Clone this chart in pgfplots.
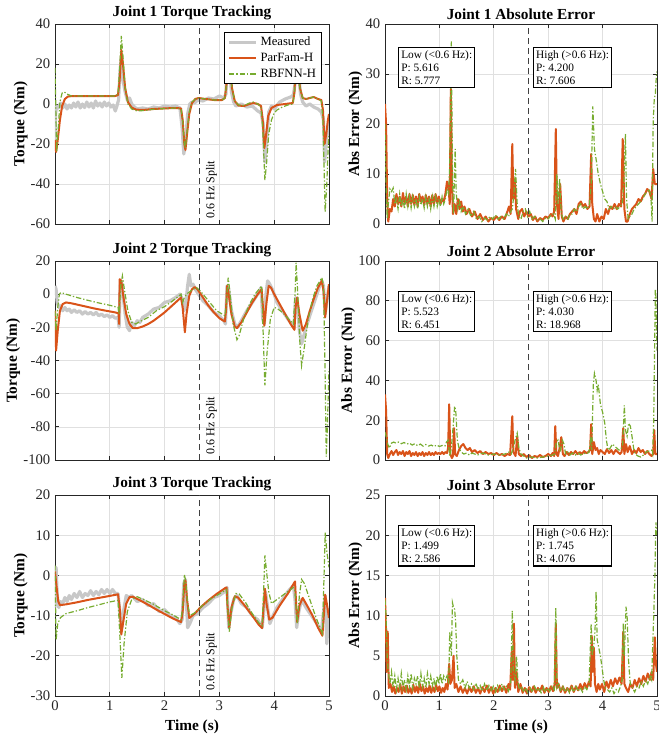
\documentclass[border=0pt]{standalone}
\usepackage{fontspec}
\setmainfont{Liberation Serif}
\usepackage{pgfplots}
\usepackage{pgfplotstable}
\pgfplotsset{compat=1.18}
\definecolor{cmeas}{RGB}{200,200,200}
\definecolor{corange}{RGB}{217,83,25}
\definecolor{cgreen}{RGB}{119,172,48}
\pgfplotsset{
  every axis title shift=0pt,
  myax/.style={scale only axis, xmin=0, xmax=5, xtick={0,1,2,3,4,5},
    grid=major, grid style={black!12, line width=0.5pt},
    axis line style={black!85, line width=0.6pt},
    tick align=inside, major tick length=3pt, tick style={black!85, line width=0.6pt},
    ticklabel style={font=\fontsize{11}{13}\selectfont, text=black!85},
    title style={font=\bfseries\fontsize{11.5}{13}\selectfont, at={(0.5,1)}, anchor=south, inner sep=3pt},
    label style={font=\bfseries\fontsize{11.5}{13}\selectfont},
    ylabel style={yshift=-4.5pt},
    /pgf/number format/assume math mode=true},
  meas/.style={cmeas, line width=2.4pt, line join=round},
  par/.style={corange, line width=1.5pt, line join=round},
  rbf/.style={cgreen, line width=0.9pt, dash pattern=on 4pt off 1.5pt on 1pt off 1.5pt},
  splitl/.style={black!75, line width=0.7pt, dash pattern=on 4.5pt off 3pt, forget plot},
}
\tikzset{
  infobox/.style={draw=black, line width=0.8pt, fill=white, align=left, inner xsep=2pt, inner ysep=2.5pt,
    anchor=north west, font=\fontsize{8.5}{9.6}\selectfont},
  splittext/.style={rotate=90, anchor=north west, inner xsep=4pt, inner ysep=4.5pt, font=\fontsize{9}{10}\selectfont}
}
% ---------------- Joint 1 tracking
\pgfplotstableread{
t y
0.00 -18
0.01 -5
0.03 -1
0.06 -2
0.10 0.5
0.14 -2
0.18 0
0.22 -2.5
0.26 -0.5
0.30 -2
0.34 0.5
0.38 -1.5
0.42 1
0.46 -2
0.50 0
0.54 -1.8
0.58 1
0.62 -1.5
0.66 0.5
0.70 -2
0.74 1.5
0.78 -1
0.82 0.5
0.86 -1.5
0.90 1
0.94 -1
0.98 0.5
1.02 -1.5
1.06 -0.5
1.10 -3.5
1.13 -1
1.16 2
1.19 18
1.21 23
1.24 12
1.28 6
1.32 2
1.36 3
1.40 0
1.45 -1.5
1.50 -2.5
1.60 -2
1.70 -2.5
1.80 -1.5
1.90 -2
2.00 -1
2.10 -1.5
2.20 -1
2.28 -2
2.32 -12
2.35 -25
2.38 -20
2.42 -5
2.46 0
2.50 1
2.55 0.5
2.60 2
2.70 1.5
2.80 3
2.90 2.5
3.00 4
3.08 3
3.12 5
3.15 25
3.18 20
3.22 6
3.26 1
3.30 -1
3.40 0
3.50 -1.5
3.60 -1
3.70 -3.5
3.76 -4.5
3.80 -10
3.83 -29
3.86 -20
3.90 -4
3.95 -1
4.00 -2.5
4.10 1
4.20 2.5
4.30 3.5
4.35 4.5
4.38 10
4.41 26
4.44 18
4.48 5
4.52 1
4.58 -1
4.65 0
4.72 -1.5
4.80 -2.5
4.86 -4
4.90 -8
4.92 -29
4.95 -20
4.98 -12
5.00 -9
}\jAm
\pgfplotstableread{
t y
0.00 -18
0.02 -24
0.05 -18
0.09 -8
0.13 -1
0.18 2.5
0.24 3.8
0.35 4
0.60 4
0.90 4
1.10 4
1.15 4.5
1.18 12
1.21 27
1.24 20
1.28 8
1.33 1
1.40 -1.8
1.48 -2.8
1.60 -3
1.80 -2.5
2.00 -2.2
2.20 -2
2.30 -2.2
2.33 -8
2.36 -20
2.38 -23
2.41 -15
2.45 -5
2.50 0.5
2.56 2.5
2.62 3
2.75 2.5
2.90 2
3.05 2
3.10 3
3.13 10
3.16 24
3.19 20
3.23 8
3.28 1.5
3.35 -0.8
3.45 -1
3.55 0
3.62 0.5
3.70 0
3.76 -1
3.79 -8
3.82 -22
3.85 -16
3.89 -6
3.95 -2
4.05 -0.5
4.20 0
4.34 0.5
4.37 6
4.40 25
4.43 20
4.47 8
4.52 3
4.58 2.5
4.65 3
4.72 3.5
4.80 2.5
4.86 2
4.89 -3
4.92 -20
4.95 -15
4.98 -8
5.00 -5
}\jAp
\pgfplotstableread{
t y
0.00 18
0.01 5
0.03 -24
0.06 -12
0.09 1
0.13 5.5
0.17 6
0.22 5
0.30 4
0.60 4
0.90 4
1.10 4
1.15 5
1.18 18
1.21 34
1.24 24
1.28 8
1.33 0
1.40 -2.5
1.50 -3.5
1.65 -3.2
1.80 -2.6
2.00 -2.3
2.20 -2
2.30 -2.5
2.33 -8
2.36 -20
2.38 -22
2.41 -14
2.45 -4
2.50 1
2.56 2.5
2.62 3
2.75 2.5
2.90 2
3.05 2
3.10 3
3.13 10
3.16 22
3.19 19
3.23 8
3.28 1.5
3.35 -0.5
3.45 -0.8
3.55 0.5
3.62 1
3.70 0
3.76 -1.5
3.79 -12
3.83 -38
3.86 -30
3.90 -15
3.95 -8
4.00 -4.5
4.05 -3
4.15 -1.5
4.25 -0.5
4.34 0
4.37 6
4.40 24
4.43 20
4.47 8
4.52 3
4.58 2.5
4.65 3
4.72 3.5
4.80 2.5
4.86 1.5
4.89 -8
4.93 -54
4.96 -40
4.98 -25
5.00 -15
}\jAr
% ---------------- Joint 2 tracking
\pgfplotstableread{
t y
0.00 5
0.02 3
0.04 -5
0.07 -8
0.10 -7
0.14 -10
0.18 -8
0.22 -10
0.26 -9
0.30 -11
0.35 -9.5
0.40 -11
0.45 -10
0.50 -12
0.55 -10.5
0.60 -12
0.65 -11
0.70 -12.5
0.75 -11
0.80 -13
0.85 -12
0.90 -13.5
0.95 -12.5
1.00 -14
1.05 -13
1.10 -14.5
1.15 -14
1.17 -20
1.19 5
1.21 8
1.24 0
1.28 -12
1.32 -20
1.36 -22
1.40 -17
1.45 -19
1.50 -16
1.55 -17
1.60 -14
1.70 -12
1.80 -9
1.90 -8
2.00 -5
2.10 -4
2.20 -2
2.28 0
2.32 -3
2.35 -10
2.38 -8
2.42 5
2.45 12
2.48 5
2.52 6
2.56 3
2.62 0
2.70 -4
2.80 -7
2.90 -11
3.00 -13
3.08 -16
3.11 -18
3.14 5
3.17 3
3.22 -10
3.28 -18
3.33 -20
3.40 -16
3.50 -10
3.60 -5
3.70 0
3.76 4
3.79 -15
3.82 -18
3.85 0
3.88 8
3.92 6
3.98 2
4.05 -5
4.15 -10
4.25 -15
4.32 -18
4.36 -20
4.39 -2
4.42 -5
4.46 -22
4.50 -30
4.54 -25
4.60 -18
4.68 -10
4.75 -3
4.82 4
4.87 8
4.90 5
4.93 -12
4.96 -5
5.00 5
}\jBm
\pgfplotstableread{
t y
0.00 -10
0.02 -34
0.05 -22
0.09 -10
0.14 -6
0.20 -5
0.30 -5.5
0.50 -7
0.70 -8.5
0.90 -9.8
1.10 -11
1.16 -11.5
1.17 -18
1.18 9
1.21 8
1.25 -2
1.30 -12
1.36 -18
1.42 -20.5
1.50 -20.5
1.60 -19.5
1.70 -18
1.80 -16
1.90 -13.5
2.00 -11
2.10 -8
2.20 -5
2.30 -2
2.33 -8
2.37 -23
2.40 -12
2.45 -1
2.50 3
2.55 4.3
2.60 3
2.70 -2
2.80 -7
2.90 -11
3.00 -14.5
3.10 -16.5
3.12 -10
3.14 5
3.17 0
3.22 -12
3.28 -19.5
3.32 -20.5
3.40 -17
3.50 -11
3.60 -5
3.70 0
3.77 3
3.80 -10
3.82 -19
3.86 -5
3.90 5
3.94 4
4.00 0
4.10 -6
4.20 -12
4.30 -18
4.37 -21.5
4.39 -8
4.42 -2
4.46 -12
4.52 -22
4.58 -18
4.65 -10
4.72 -3
4.80 4
4.87 8
4.90 2
4.93 -14
4.96 -5
5.00 6
}\jBp
\pgfplotstableread{
t y
0.00 -10
0.02 -22
0.05 -8
0.08 0
0.11 1
0.20 0
0.40 -2
0.60 -3.7
0.80 -5.3
1.00 -6.7
1.15 -8
1.17 -12
1.20 5
1.23 11
1.27 2
1.33 -10
1.40 -17
1.47 -18
1.55 -16.5
1.70 -14
1.85 -10
2.00 -7.5
2.15 -4
2.30 0
2.33 -5
2.36 -2
2.40 0
2.50 2.5
2.58 4
2.65 2
2.75 -2
2.85 -6
2.95 -10
3.10 -13
3.13 -5
3.16 10
3.19 2
3.25 -18
3.32 -27.5
3.36 -25
3.45 -14
3.55 -6
3.65 0
3.77 5
3.80 -25
3.83 -55
3.87 -35
3.93 -15
4.00 -8
4.05 -8.5
4.15 -11
4.25 -14.5
4.35 -18
4.38 0
4.40 19
4.43 0
4.47 -30
4.50 -43
4.55 -32
4.62 -15
4.70 -3
4.78 5
4.87 10
4.90 5
4.93 -50
4.95 -98
4.97 -80
5.00 -45
}\jBr
% ---------------- Joint 3 tracking
\pgfplotstableread{
t y
0.00 -8
0.02 2
0.04 -5
0.07 -8
0.10 -6.5
0.14 -7
0.18 -5.5
0.22 -6.5
0.26 -5
0.30 -6
0.35 -4.5
0.40 -5.5
0.45 -4
0.50 -5.5
0.55 -4.5
0.60 -5
0.65 -3.8
0.70 -5
0.75 -4
0.80 -4.8
0.85 -3.5
0.90 -4.5
0.95 -3.5
1.00 -4.5
1.05 -3.5
1.10 -4.5
1.15 -4.5
1.19 -10
1.22 -13
1.25 -9
1.30 -5
1.35 -5.5
1.40 -5
1.50 -6.5
1.60 -6
1.70 -7.5
1.80 -7
1.90 -9
2.00 -8.5
2.10 -10
2.20 -10.5
2.28 -12
2.32 -11
2.35 -2
2.38 -1
2.42 -13
2.46 -12
2.52 -10
2.60 -9.5
2.70 -8
2.80 -7
2.90 -5.5
3.00 -5
3.10 -4
3.14 -3
3.17 -13
3.20 -10
3.26 -6
3.32 -5
3.40 -7
3.50 -8
3.60 -10
3.70 -11
3.78 -13
3.81 -9
3.84 -4
3.88 -8
3.92 -12
3.98 -10
4.05 -8
4.15 -6
4.25 -4
4.35 -2.5
4.38 -6
4.41 -13
4.45 -9
4.50 -6
4.58 -8
4.68 -10
4.78 -12
4.86 -14
4.90 -9
4.93 -5
4.96 -17
5.00 -8
}\jCm
\pgfplotstableread{
t y
0.00 1
0.03 -3
0.06 -6.5
0.09 -7.4
0.20 -7.2
0.40 -6.7
0.60 -6.1
0.80 -5.6
1.00 -5.1
1.15 -4.7
1.18 -8
1.21 -14.7
1.24 -12
1.30 -7
1.36 -5.4
1.42 -5.3
1.55 -6.2
1.70 -7.3
1.85 -8.5
2.00 -9.6
2.15 -10.7
2.30 -11.6
2.33 -9
2.36 -2
2.38 -1.2
2.41 -6
2.45 -10.6
2.55 -9.5
2.65 -8
2.80 -6.2
2.95 -4.6
3.10 -3.2
3.13 -3
3.15 -8
3.18 -13
3.22 -8
3.28 -5.2
3.34 -5.5
3.45 -7.3
3.60 -10
3.72 -12.3
3.78 -13.1
3.81 -7
3.83 -3.3
3.86 -7
3.91 -11
3.97 -10.5
4.10 -7.5
4.25 -4.5
4.38 -1.5
4.40 -7
4.42 -11.6
4.46 -7.5
4.52 -5.6
4.60 -7.5
4.70 -10
4.80 -13
4.88 -15
4.91 -9
4.93 -4.8
4.96 -7
5.00 -10.6
}\jCp
\pgfplotstableread{
t y
0.00 2.5
0.02 -16
0.05 -12
0.10 -10.5
0.20 -9.5
0.40 -8.8
0.60 -8
0.80 -7.3
1.00 -6.6
1.15 -6.2
1.18 -14
1.22 -25.5
1.26 -17
1.32 -9
1.40 -6
1.50 -5.3
1.65 -6.2
1.80 -7.2
2.00 -8.8
2.15 -9.8
2.30 -11
2.33 -8
2.36 0.2
2.38 -1
2.42 -7
2.46 -10
2.55 -9.3
2.70 -7.4
2.85 -5.8
3.00 -4.6
3.13 -3.5
3.15 -8
3.18 -14
3.23 -8
3.30 -4.5
3.36 -4.6
3.48 -6.8
3.60 -9.5
3.72 -11.8
3.78 -12.5
3.81 -3
3.83 5
3.86 1
3.90 -4
3.95 -7
4.05 -6
4.20 -4.5
4.35 -3
4.38 -4
4.42 -12
4.46 -5
4.50 -1
4.55 -2
4.65 -6
4.75 -10
4.85 -13.5
4.88 -14.5
4.91 0
4.93 10.7
4.96 6
5.00 2
}\jCr
% ---------------- Joint 1 error
\pgfplotstableread{
t y
0.00 24
0.02 20
0.04 5
0.06 0.5
0.09 3
0.12 2.5
0.15 5
0.18 3.5
0.21 6
0.24 4
0.27 5.5
0.30 3.5
0.33 6.2
0.36 4
0.39 5.5
0.42 3.5
0.45 6
0.48 4
0.51 5.8
0.54 3.8
0.57 5.5
0.60 3.5
0.63 6
0.66 4.5
0.69 5.5
0.72 3.8
0.75 5.8
0.78 4
0.81 5.5
0.84 3.5
0.87 5.8
0.90 4
0.93 6
0.96 4.2
0.99 5.5
1.02 4
1.05 5
1.08 4.5
1.11 6
1.14 8.5
1.17 7
1.19 4
1.21 27
1.23 8
1.25 2
1.28 4
1.31 2
1.34 5
1.37 3
1.40 4.5
1.43 2.5
1.46 3.5
1.50 2
1.55 3
1.60 1.5
1.65 2.5
1.70 1
1.75 2
1.80 0.8
1.85 1.5
1.90 0.5
1.95 1.2
2.00 0.8
2.05 1.5
2.10 0.8
2.15 1.5
2.20 1
2.25 2.5
2.28 3.5
2.31 2
2.34 16
2.36 5
2.39 9
2.41 3
2.45 1
2.48 2.5
2.52 3
2.56 1.5
2.60 2.5
2.64 1.5
2.68 2
2.72 0.8
2.76 1.5
2.80 0.5
2.85 1.2
2.90 0.8
2.95 1.5
3.00 1.2
3.05 2
3.08 1.5
3.11 2.5
3.14 19
3.16 4
3.19 1
3.22 8
3.25 1.5
3.28 0.5
3.32 1.5
3.36 1
3.40 2
3.44 2.5
3.48 3
3.52 2
3.56 4
3.60 4.5
3.64 3.5
3.68 4
3.72 3
3.76 3.5
3.79 14
3.81 4
3.84 1
3.87 0.5
3.90 2
3.94 0.5
3.98 1.5
4.02 1
4.06 3
4.10 2
4.14 3.5
4.18 3
4.22 4
4.26 3
4.30 4
4.34 3.5
4.37 17
4.40 3
4.43 0.5
4.46 0.5
4.50 2
4.54 3
4.58 3.5
4.62 4
4.66 5
4.70 4.5
4.74 5.5
4.78 6
4.82 7
4.86 6.5
4.90 5
4.93 11
4.96 8
5.00 8
}\eAp
\pgfplotstableread{
t y
0.00 20
0.02 8
0.04 1
0.06 4
0.09 7
0.12 6.5
0.15 7.2
0.18 4
0.21 5
0.24 3
0.27 6
0.30 3.5
0.33 5
0.36 3
0.39 6
0.42 3.5
0.45 5.5
0.48 3.2
0.51 5.5
0.54 3.5
0.57 5
0.60 3
0.63 5.5
0.66 3.8
0.69 5
0.72 3.2
0.75 5.5
0.78 3.5
0.81 5
0.84 3
0.87 5.5
0.90 3.5
0.93 5.5
0.96 3.5
0.99 5
1.02 3.5
1.05 5.5
1.08 4
1.11 5
1.14 7
1.17 6
1.19 12
1.22 36.5
1.24 10
1.26 2
1.29 15
1.31 6
1.34 3
1.37 4.5
1.40 2.5
1.44 3.5
1.48 2
1.53 3
1.58 1.5
1.63 2.5
1.68 1
1.73 1.5
1.78 0.5
1.83 1.2
1.88 0.8
1.93 1.5
1.98 1
2.03 1.8
2.08 1
2.13 1.5
2.18 1
2.23 2
2.27 1.5
2.31 2.5
2.34 3
2.37 6
2.40 11
2.43 4
2.46 1.5
2.50 1
2.54 2.5
2.58 3
2.62 1.5
2.66 2.5
2.70 1
2.75 1.5
2.80 0.8
2.85 1
2.90 0.5
2.95 1.2
3.00 1
3.05 1.8
3.10 2
3.13 1
3.16 10
3.18 4
3.21 9
3.24 2
3.28 1
3.32 1.5
3.36 1
3.40 2
3.44 2
3.48 3
3.52 2.5
3.56 3.5
3.60 4
3.64 3
3.68 3.5
3.72 3
3.76 4
3.79 8
3.82 23.5
3.85 15
3.88 13
3.92 10
3.96 8
4.00 6.5
4.04 5
4.08 4.5
4.12 3
4.16 3.5
4.20 3
4.24 3.5
4.28 3
4.32 3.5
4.36 4
4.39 8
4.42 18
4.44 5
4.47 1
4.50 1.5
4.54 2
4.58 3
4.62 3.5
4.66 4
4.70 4.5
4.74 5
4.78 6
4.82 6.5
4.86 7
4.89 5
4.91 0.5
4.93 20.5
4.95 25
4.97 26
4.99 30
5.00 30.5
}\eAr
% ---------------- Joint 2 error
\pgfplotstableread{
t y
0.00 33
0.02 25
0.04 3
0.06 1
0.09 3
0.12 4.5
0.15 2.5
0.18 4
0.21 5
0.24 2.5
0.27 4
0.30 3
0.33 4.5
0.36 2
0.39 4
0.42 3
0.45 4.5
0.48 2
0.51 3.5
0.54 2.5
0.57 4
0.60 2
0.63 3.5
0.66 2.5
0.69 4
0.72 2
0.75 3.5
0.78 2.5
0.81 4
0.84 2.5
0.87 3.5
0.90 2.5
0.93 4
0.96 3
0.99 3.5
1.02 3
1.05 4
1.08 3
1.11 4
1.14 3.5
1.16 6
1.18 28
1.20 3
1.23 1
1.25 2
1.27 16
1.29 3
1.32 2
1.36 5
1.40 7
1.44 8
1.48 6
1.52 5
1.56 6
1.60 4
1.65 5
1.70 3.5
1.75 4.5
1.80 3
1.85 4
1.90 3
1.95 3.5
2.00 2.5
2.05 3.5
2.10 2.5
2.15 3
2.20 2
2.25 3
2.30 2.5
2.34 22
2.36 4
2.40 2
2.43 12
2.46 3
2.50 2
2.55 3
2.60 1.5
2.65 2.5
2.70 1
2.75 2
2.80 1.5
2.85 2.5
2.90 1.5
2.95 2
3.00 3
3.05 2
3.08 3.5
3.11 2
3.13 17
3.15 3
3.18 2
3.21 6
3.24 11.5
3.27 3
3.30 2
3.34 4
3.38 2.5
3.42 4
3.46 3
3.50 4.5
3.54 3
3.58 4
3.62 3
3.66 4.5
3.70 3.5
3.74 4
3.77 5
3.79 18
3.81 3
3.84 9
3.87 5
3.90 6
3.93 3
3.96 5
4.00 4
4.04 3
4.08 5.5
4.12 3.5
4.16 5
4.20 3
4.24 5
4.28 4
4.32 3
4.35 4
4.38 16
4.40 3
4.43 8
4.46 4
4.50 7
4.54 3
4.58 5
4.62 3.5
4.66 6
4.70 4
4.74 5
4.78 3
4.82 4.5
4.86 3
4.90 2
4.93 3
4.95 15
4.97 3
5.00 3
}\eBp
\pgfplotstableread{
t y
0.00 14
0.02 12
0.05 8
0.08 6
0.12 8.5
0.16 9
0.20 8.5
0.25 9
0.30 8.2
0.35 8.8
0.40 8
0.45 8.5
0.50 7.5
0.55 8.2
0.60 7.2
0.65 8
0.70 7
0.75 7.8
0.80 7
0.85 7.5
0.90 6.8
0.95 7.5
1.00 6.8
1.05 7.3
1.10 7
1.13 9
1.16 10
1.19 2
1.22 6
1.25 16
1.28 27
1.30 25
1.33 10
1.36 6
1.40 4
1.45 3
1.50 3.5
1.55 2.5
1.60 3.5
1.70 2.5
1.80 3.5
1.90 2.5
2.00 3
2.10 2.5
2.20 3
2.28 4
2.32 3
2.36 6
2.40 11
2.43 13.5
2.46 6
2.50 3
2.55 2
2.60 1
2.70 1.5
2.80 1
2.90 1.5
3.00 2
3.08 2.5
3.12 3
3.15 9
3.18 10
3.22 4
3.26 10
3.29 8
3.32 3
3.36 4
3.40 2.5
3.45 3.5
3.50 2.5
3.55 3.5
3.60 2.5
3.65 3.5
3.70 3
3.75 4
3.78 10
3.80 5
3.83 38
3.85 43.5
3.88 40
3.90 35
3.92 38
3.96 28
4.00 24
4.04 18.5
4.07 10
4.10 5
4.14 6
4.18 8
4.22 7
4.26 6
4.30 5
4.34 5.5
4.37 8
4.40 27.5
4.42 15
4.45 12
4.48 18.5
4.51 17
4.54 12
4.57 6
4.60 3
4.65 2
4.70 1.5
4.75 2.5
4.80 4
4.85 4.5
4.90 5
4.92 3
4.94 20
4.96 65
4.97 86
4.98 82
5.00 55
}\eBr
% ---------------- Joint 3 error
\pgfplotstableread{
t y
0.00 12.2
0.02 8
0.03 3
0.05 8
0.07 1
0.10 1.5
0.13 0.5
0.16 1.2
0.19 0.3
0.22 1
0.25 0.5
0.28 1.5
0.31 0.3
0.34 1.2
0.37 0.5
0.40 1.3
0.43 0.4
0.46 1
0.49 0.3
0.52 1.4
0.55 0.5
0.58 1.2
0.61 0.4
0.64 1.5
0.67 0.6
0.70 1.2
0.73 0.3
0.76 1
0.79 0.5
0.82 1.3
0.85 0.4
0.88 1.1
0.91 0.5
0.94 1.4
0.97 0.6
1.00 1.2
1.03 0.4
1.06 1
1.09 0.5
1.12 1.5
1.15 0.8
1.18 4
1.20 1.5
1.23 2
1.26 5
1.28 1
1.31 1.5
1.35 0.5
1.39 1.2
1.43 0.4
1.47 1
1.51 0.3
1.55 1.1
1.59 0.5
1.63 1.2
1.67 0.4
1.71 1
1.75 0.3
1.79 1.1
1.83 0.5
1.87 1.3
1.91 0.4
1.95 1.1
1.99 0.3
2.03 1
2.07 0.5
2.11 1.3
2.15 0.6
2.19 1.2
2.23 0.4
2.27 1.5
2.30 0.8
2.33 5.5
2.35 2
2.37 9
2.39 1
2.42 3
2.45 0.5
2.49 1.5
2.53 0.4
2.57 1
2.61 0.3
2.65 1.1
2.69 0.5
2.73 1.2
2.77 0.4
2.81 1
2.85 0.6
2.89 1.3
2.93 0.4
2.97 1
3.01 0.5
3.05 1.2
3.09 0.6
3.12 1.5
3.14 9
3.16 1
3.19 1.5
3.23 0.5
3.27 1.2
3.31 0.4
3.35 1
3.39 0.6
3.43 1.3
3.47 0.5
3.51 1.2
3.55 0.7
3.59 1.5
3.63 0.8
3.67 1.6
3.71 1
3.75 1.8
3.78 1.2
3.80 7.5
3.82 3
3.84 6
3.86 1.5
3.89 0.5
3.92 1.5
3.95 0.8
3.99 1.5
4.03 0.5
4.07 1.8
4.11 1
4.15 2
4.19 1.2
4.23 2.2
4.27 1.5
4.31 2.3
4.35 1.5
4.38 8
4.40 1.5
4.43 1
4.47 0.5
4.51 1.5
4.55 1
4.59 2
4.63 1.2
4.67 2.2
4.71 1.5
4.75 2.5
4.79 1.8
4.83 2.8
4.87 2
4.90 3
4.93 2
4.96 7.3
4.98 4
5.00 3
}\eCp
\pgfplotstableread{
t y
0.00 12
0.02 10
0.04 5
0.06 3
0.09 1.5
0.12 3
0.15 1
0.18 2.5
0.21 0.8
0.24 2.2
0.27 1
0.30 2.8
0.33 1
0.36 2
0.39 0.8
0.42 2.5
0.45 1.2
0.48 2.8
0.51 1
0.54 2.2
0.57 1.5
0.60 2.5
0.63 1
0.66 2.8
0.69 1.2
0.72 2.2
0.75 1
0.78 2.8
0.81 1.5
0.84 2.5
0.87 1.2
0.90 2.2
0.93 1
0.96 2.5
0.99 1.5
1.02 2.8
1.05 1.5
1.08 2.5
1.11 2
1.14 2.5
1.17 1.5
1.19 8
1.22 5
1.24 11.6
1.26 11
1.28 10.8
1.30 9
1.32 5
1.35 2
1.39 1.5
1.43 2
1.47 1
1.51 1.8
1.55 1
1.59 1.5
1.63 0.8
1.67 1.6
1.71 0.8
1.75 1.3
1.79 0.6
1.83 1.5
1.87 0.7
1.91 1.3
1.95 0.6
1.99 1.2
2.03 0.5
2.07 1.3
2.11 0.7
2.15 1.5
2.19 0.8
2.23 1.2
2.27 0.6
2.31 1.5
2.34 10.6
2.36 3
2.39 2
2.42 4.9
2.44 2
2.47 0.8
2.51 1.2
2.55 0.5
2.59 1
2.63 0.3
2.67 1
2.71 0.5
2.75 1.2
2.79 0.6
2.83 1
2.87 0.4
2.91 1.1
2.95 0.5
2.99 1
3.03 0.6
3.07 1.2
3.11 0.8
3.14 11
3.16 1
3.19 1.5
3.23 0.6
3.27 1.2
3.31 0.5
3.35 1
3.39 0.4
3.43 1.1
3.47 0.5
3.51 1.2
3.55 0.6
3.59 1
3.63 0.5
3.67 1.2
3.71 0.8
3.75 1.3
3.79 9
3.81 5
3.84 6.5
3.86 8
3.88 13
3.90 7
3.93 6
3.96 5
3.99 3.5
4.02 2
4.05 1
4.09 0.8
4.13 0.5
4.17 1
4.21 0.3
4.25 0.8
4.29 0.5
4.33 1.2
4.36 2
4.38 9
4.40 5
4.43 11.1
4.45 10
4.48 4
4.51 1.5
4.55 1
4.59 0.5
4.63 1.2
4.67 1
4.71 1.8
4.75 1.2
4.79 2
4.83 1.5
4.87 2.5
4.90 2
4.92 6
4.94 10
4.96 14.5
4.98 21.6
5.00 20
}\eCr
\begin{document}
\begin{tikzpicture}
\useasboundingbox (0,0) rectangle (493.5pt,-555pt);
% ===== Row 1
\begin{axis}[myax, at={(41.25pt,-18pt)}, anchor=north west, width=205.5pt, height=150pt,
  ymin=-60, ymax=40, ytick={-60,-40,-20,0,20,40}, xticklabels={},
  title={Joint 1 Torque Tracking}, ylabel={Torque (Nm)},
  legend style={at={(0.974,0.96)}, anchor=north east, draw=black, line width=0.6pt, fill=white,
    font=\fontsize{9.5}{11}\selectfont, inner xsep=2pt, inner ysep=1.5pt, row sep=0pt, cells={anchor=west}},
  legend image code/.code={\draw[#1] (0cm,0cm) -- (0.72cm,0cm);}]
\addplot[meas] table[x=t,y=y]{\jAm}; \addlegendentry{Measured}
\addplot[par] table[x=t,y=y]{\jAp}; \addlegendentry{ParFam-H}
\addplot[rbf] table[x=t,y=y]{\jAr}; \addlegendentry{RBFNN-H}
\addplot[splitl] coordinates {(2.64,-60) (2.64,40)};
\node[splittext] at (axis cs:2.64,-60) {0.6 Hz Split};
\end{axis}
\begin{axis}[myax, at={(288.75pt,-18pt)}, anchor=north west, width=204pt, height=150pt,
  ymin=0, ymax=40, ytick={0,10,20,30,40}, xticklabels={},
  title={Joint 1 Absolute Error}, ylabel={Abs Error (Nm)}]
\addplot[par] table[x=t,y=y]{\eAp};
\addplot[rbf] table[x=t,y=y]{\eAr};
\addplot[splitl] coordinates {(2.63,0) (2.63,40)};
\node[infobox] at (rel axis cs:0.048,0.885) {Low (<0.6 Hz):\\P: 5.616\\R: 5.777};
\node[infobox] at (rel axis cs:0.544,0.885) {High (>0.6 Hz):\\P: 4.200\\R: 7.606};
\end{axis}
% ===== Row 2
\begin{axis}[myax, at={(41.25pt,-195.75pt)}, anchor=north west, width=205.5pt, height=149.25pt,
  ymin=-100, ymax=20, ytick={-100,-80,-60,-40,-20,0,20}, xticklabels={},
  title={Joint 2 Torque Tracking}, ylabel={Torque (Nm)}]
\addplot[meas] table[x=t,y=y]{\jBm};
\addplot[par] table[x=t,y=y]{\jBp};
\addplot[rbf] table[x=t,y=y]{\jBr};
\addplot[splitl] coordinates {(2.64,-100) (2.64,20)};
\node[splittext] at (axis cs:2.64,-100) {0.6 Hz Split};
\end{axis}
\begin{axis}[myax, at={(288.75pt,-195.75pt)}, anchor=north west, width=204pt, height=149.25pt,
  ymin=0, ymax=100, ytick={0,20,40,60,80,100}, xticklabels={},
  title={Joint 2 Absolute Error}, ylabel={Abs Error (Nm)}]
\addplot[par] table[x=t,y=y]{\eBp};
\addplot[rbf] table[x=t,y=y]{\eBr};
\addplot[splitl] coordinates {(2.63,0) (2.63,100)};
\node[infobox] at (rel axis cs:0.048,0.85) {Low (<0.6 Hz):\\P: 5.523\\R: 6.451};
\node[infobox] at (rel axis cs:0.544,0.85) {High (>0.6 Hz):\\P: 4.030\\R: 18.968};
\end{axis}
% ===== Row 3
\begin{axis}[myax, at={(41.25pt,-371.25pt)}, anchor=north west, width=205.5pt, height=150.75pt,
  ymin=-30, ymax=20, ytick={-30,-20,-10,0,10,20},
  title={Joint 3 Torque Tracking}, ylabel={Torque (Nm)}, xlabel={Time (s)}]
\addplot[meas] table[x=t,y=y]{\jCm};
\addplot[par] table[x=t,y=y]{\jCp};
\addplot[rbf] table[x=t,y=y]{\jCr};
\addplot[splitl] coordinates {(2.64,-30) (2.64,20)};
\node[splittext] at (axis cs:2.64,-30) {0.6 Hz Split};
\end{axis}
\begin{axis}[myax, at={(288.75pt,-371.25pt)}, anchor=north west, width=204pt, height=150.75pt,
  ymin=0, ymax=25, ytick={0,5,10,15,20,25},
  title={Joint 3 Absolute Error}, ylabel={Abs Error (Nm)}, xlabel={Time (s)}]
\addplot[par] table[x=t,y=y]{\eCp};
\addplot[rbf] table[x=t,y=y]{\eCr};
\addplot[splitl] coordinates {(2.63,0) (2.63,25)};
\node[infobox] at (rel axis cs:0.048,0.85) {Low (<0.6 Hz):\\P: 1.499\\R: 2.586};
\node[infobox] at (rel axis cs:0.544,0.85) {High (>0.6 Hz):\\P: 1.745\\R: 4.076};
\end{axis}
\end{tikzpicture}
\end{document}
